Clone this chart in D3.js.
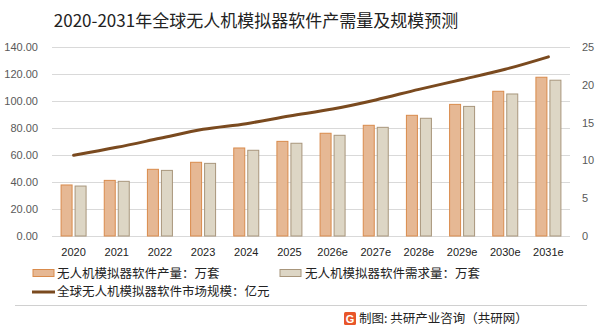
<!DOCTYPE html>
<html><head><meta charset="utf-8">
<script src="https://cdn.jsdelivr.net/npm/d3@7"></script>
<style>body{margin:0;background:#fff;}svg{display:block;font-family:"Noto Sans CJK SC","Noto Sans",sans-serif;}</style>
</head><body>
<script>
const title = "2020-2031年全球无人机模拟器软件产需量及规模预测";
const categories = ["2020","2021","2022","2023","2024","2025","2026e","2027e","2028e","2029e","2030e","2031e"];
const production = [37.8,41.2,49.4,54.6,65.2,70.1,76.1,82.0,89.4,97.5,107.2,117.6];
const demand = [37.0,40.5,48.6,53.8,63.5,68.7,74.6,80.5,87.2,96.0,105.2,115.4];
const marketSize = [10.67,11.73,12.92,14.11,14.86,15.87,16.8,18.0,19.4,20.7,22.05,23.7];
const leftTicks = [0,20,40,60,80,100,120,140];
const rightTicks = [0,5,10,15,20,25];
const seriesNames = ["无人机模拟器软件产量：万套","无人机模拟器软件需求量：万套","全球无人机模拟器软件市场规模：亿元"];
const sourceText = "制图: 共研产业咨询（共研网）";

const W=602,H=332;
const m={l:52,r:570,t:47,b:236};
const svg=d3.select("body").append("svg").attr("width",W).attr("height",H);

svg.append("text").attr("x",256).attr("y",27).attr("text-anchor","middle").attr("font-size",17).attr("fill","#222").text(title);

const x=d3.scaleBand().domain(categories).range([m.l,m.r]);
const yL=d3.scaleLinear().domain([0,140]).range([m.b,m.t]);
const yR=d3.scaleLinear().domain([0,25]).range([m.b,m.t]);

// grid
svg.append("g").selectAll("line").data(leftTicks).join("line")
  .attr("x1",m.l).attr("x2",m.r).attr("y1",d=>yL(d)+0.5).attr("y2",d=>yL(d)+0.5)
  .attr("stroke","#d9d9d9").attr("stroke-width",1);

// left axis
const axL=svg.append("g").attr("transform",`translate(${m.l},0)`)
  .call(d3.axisLeft(yL).tickValues(leftTicks).tickFormat(d3.format(".2f")).tickSize(0).tickPadding(14));
axL.select(".domain").remove();
axL.selectAll("text").attr("font-size",11).attr("fill","#595959").attr("font-family","Liberation Sans, Arial, sans-serif");

// right axis
const axR=svg.append("g").attr("transform",`translate(${m.r},0)`)
  .call(d3.axisRight(yR).tickValues(rightTicks).tickSize(0).tickPadding(12));
axR.select(".domain").remove();
axR.selectAll("text").attr("font-size",11).attr("fill","#595959").attr("font-family","Liberation Sans, Arial, sans-serif");

// x axis
const axX=svg.append("g").attr("transform",`translate(0,${m.b})`)
  .call(d3.axisBottom(x).tickSize(0).tickPadding(12));
axX.select(".domain").remove();
axX.selectAll("text").attr("font-size",11).attr("fill","#222").attr("font-family","Liberation Sans, Arial, sans-serif");

const bw=12, gap=2;
const cx=d=>x(d)+x.bandwidth()/2;
svg.append("g").selectAll("rect").data(categories).join("rect")
  .attr("x",(d)=>cx(d)-gap/2-bw+0.5).attr("width",bw-1)
  .attr("y",(d,i)=>yL(production[i])).attr("height",(d,i)=>m.b-yL(production[i]))
  .attr("fill","#e6b894").attr("stroke","#d98b4c").attr("stroke-width",1);
svg.append("g").selectAll("rect").data(categories).join("rect")
  .attr("x",(d)=>cx(d)+gap/2+0.5).attr("width",bw-1)
  .attr("y",(d,i)=>yL(demand[i])).attr("height",(d,i)=>m.b-yL(demand[i]))
  .attr("fill","#ddd6c5").attr("stroke","#a8967c").attr("stroke-width",1);

const line=d3.line().x((d,i)=>cx(categories[i])).y(d=>yR(d)).curve(d3.curveMonotoneX);
svg.append("path").datum(marketSize).attr("d",line).attr("fill","none")
  .attr("stroke","#7a4a1f").attr("stroke-width",3).attr("stroke-linecap","round");

// legend
const lg=svg.append("g").attr("font-size",12.5).attr("fill","#222");
lg.append("rect").attr("x",33).attr("y",269.5).attr("width",21).attr("height",7).attr("fill","#e6b894").attr("stroke","#d98b4c");
lg.append("text").attr("x",57).attr("y",278).text(seriesNames[0]);
lg.append("rect").attr("x",280).attr("y",269.5).attr("width",21).attr("height",7).attr("fill","#ddd6c5").attr("stroke","#a8967c");
lg.append("text").attr("x",305).attr("y",278).text(seriesNames[1]);
lg.append("line").attr("x1",32).attr("x2",55).attr("y1",292).attr("y2",292).attr("stroke","#7a4a1f").attr("stroke-width",3);
lg.append("text").attr("x",57).attr("y",296).text(seriesNames[2]);

svg.append("line").attr("x1",15).attr("x2",587).attr("y1",305.5).attr("y2",305.5).attr("stroke","#d0d0d0");

// footer logo
const logo=svg.append("g").attr("transform","translate(344,312)");
logo.append("rect").attr("width",12).attr("height",13).attr("rx",1.5).attr("fill","#e8562a");
logo.append("text").attr("x",6).attr("y",10.5).attr("text-anchor","middle").attr("font-size",11).attr("font-weight","bold").attr("fill","#fff").attr("font-family","Liberation Sans, Arial, sans-serif").text("G");
svg.append("text").attr("x",359).attr("y",323).attr("font-size",12.5).attr("fill","#222").text(sourceText);
</script>
</body></html>
